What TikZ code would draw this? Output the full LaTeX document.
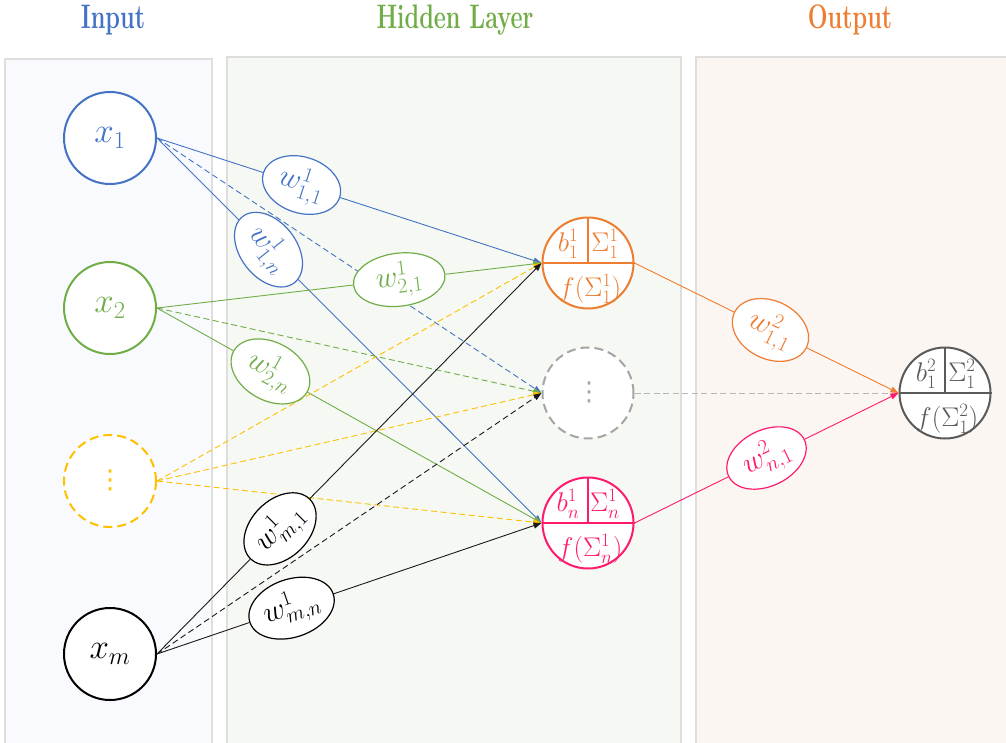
\RequirePackage{fix-cm}
\documentclass[tikz,border=0pt]{standalone}
\usepackage{fontspec}
\newfontfamily\djv{DejaVu Sans}
\usepackage{graphicx}
\usetikzlibrary{shapes.geometric,arrows.meta}
\definecolor{cblue}{HTML}{4472C4}
\definecolor{cgreen}{HTML}{70AD47}
\definecolor{cyellow}{HTML}{FFC000}
\definecolor{corange}{HTML}{ED7D31}
\definecolor{cpink}{HTML}{FF1A6E}
\definecolor{cgray}{HTML}{A5A5A5}
\definecolor{cdark}{HTML}{5A5A5A}
\definecolor{cblack}{HTML}{1A1A1A}
\definecolor{pborder}{HTML}{DEDEDE}
\definecolor{pin}{HTML}{F8FAFD}
\definecolor{phid}{HTML}{F6F9F3}
\definecolor{pout}{HTML}{FBF6F2}
\pgfdeclarelayer{panels}
\pgfdeclarelayer{edges}
\pgfsetlayers{panels,edges,main}
\begin{document}
\begin{tikzpicture}[x=1pt,y=-1pt,
  inp/.style={circle, draw, fill=white, minimum size=92pt, inner sep=0pt, line width=2pt, font=\fontsize{35}{37}\selectfont},
  neu/.style={circle, draw, fill=white, minimum size=91pt, inner sep=0pt, line width=2pt},
  wt/.style={ellipse, draw, fill=white, inner sep=0pt, line width=1.2pt, font=\fontsize{30}{32}\selectfont},
  ntext/.style={inner sep=0pt, font=\fontsize{27}{29}\selectfont},
  dotstext/.style={inner sep=0pt, font=\fontsize{26}{28}\selectfont\djv},
  edge/.style={line width=0.9pt},
  arr/.style={-{Triangle[length=8pt,width=6pt]}},
  dsh/.style={dash pattern=on 6pt off 3.5pt},
  cdsh/.style={dash pattern=on 9pt off 5pt},
  title/.style={font=\fontsize{34}{36}\selectfont\bfseries, anchor=base},
  panel/.style={draw=pborder, line width=1.5pt}
]
\useasboundingbox (0,0) rectangle (1006,742);

% panels
\begin{pgfonlayer}{panels}
\fill[white] (0,0) rectangle (1006,742);
\path[panel, fill=pin] (5,59) rectangle (212,746);
\path[panel, fill=phid] (227,57) rectangle (681,746);
\path[panel, fill=pout] (696,57) rectangle (1012,746);
\end{pgfonlayer}

% titles
\node[title, text=cblue] (tin) at (113,28) {\scalebox{0.69}[1]{Input}};
\node[title, text=cgreen] (thid) at (455,28) {\scalebox{0.69}[1]{Hidden Layer}};
\node[title, text=corange] (tout) at (850,28) {\scalebox{0.69}[1]{Output}};

% input nodes
\node[inp, draw=cblue, text=cblue] (x1) at (110,138) {$x_1$};
\node[inp, draw=cgreen, text=cgreen] (x2) at (110,308) {$x_2$};
\node[inp, draw=cyellow, text=cyellow, cdsh] (xd) at (110,481) {};
\node[dotstext, text=cyellow] (xdd) at (110,480) {⋮};
\node[inp, draw=black, text=black] (xm) at (110,654) {$x_m$};

% hidden neuron 1
\node[neu, draw=corange] (h1) at (588,263) {};
\draw[corange, line width=1.4pt] (h1.west) -- (h1.east) (h1.north) -- (h1.center);
\node[ntext, text=corange] (h1b) at (568,244) {$b_1^1$};
\node[ntext, text=corange] (h1s) at (605,244) {$\Sigma_1^1$};
\node[ntext, text=corange] (h1f) at (590,289) {$f(\Sigma_1^1)$};

% hidden dots neuron
\node[neu, draw=cgray, cdsh] (hd) at (588,393) {};
\node[dotstext, text=cgray] (hdd) at (589,392) {⋮};

% hidden neuron n
\node[neu, draw=cpink] (hn) at (588,523) {};
\draw[cpink, line width=1.4pt] (hn.west) -- (hn.east) (hn.north) -- (hn.center);
\node[ntext, text=cpink] (hnb) at (568,504) {$b_n^1$};
\node[ntext, text=cpink] (hns) at (605,504) {$\Sigma_n^1$};
\node[ntext, text=cpink] (hnf) at (590,549) {$f(\Sigma_n^1)$};

% output neuron
\node[neu, draw=cdark] (out) at (945,393) {};
\draw[cdark, line width=1.4pt] (out.west) -- (out.east) (out.north) -- (out.center);
\node[ntext, text=cdark] (ob) at (926,374) {$b_1^2$};
\node[ntext, text=cdark] (os) at (962,374) {$\Sigma_1^2$};
\node[ntext, text=cdark] (of) at (947,419) {$f(\Sigma_1^2)$};

% weight ellipses
\path (x1.east) -- node[wt, draw=cblue, text=cblue, rotate=-18, minimum width=80pt, minimum height=56pt, pos=0.376] (w11) {$w_{1,1}^1$} (h1.west);
\path (x1.east) -- node[wt, draw=cblue, text=cblue, rotate=-52, minimum width=84pt, minimum height=56pt, pos=0.29] (w1n) {$w_{1,n}^1$} (hn.west);
\path (x2.east) -- node[wt, draw=cgreen, text=cgreen, rotate=7, minimum width=92pt, minimum height=53pt, pos=0.63] (w21) {$w_{2,1}^1$} (h1.west);
\path (x2.east) -- node[wt, draw=cgreen, text=cgreen, rotate=-29, minimum width=84pt, minimum height=58pt, pos=0.295] (w2n) {$w_{2,n}^1$} (hn.west);
\path (xm.east) -- node[wt, draw=black, text=black, rotate=45, minimum width=84pt, minimum height=58pt, pos=0.32] (wm1) {$w_{m,1}^1$} (h1.west);
\path (xm.east) -- node[wt, draw=black, text=black, rotate=19, minimum width=88pt, minimum height=58pt, pos=0.35] (wmn) {$w_{m,n}^1$} (hn.west);
\path (h1.east) -- node[wt, draw=corange, text=corange, rotate=-26, minimum width=80pt, minimum height=58pt, pos=0.515] (v11) {$w_{1,1}^2$} (out.west);
\path (hn.east) -- node[wt, draw=cpink, text=cpink, rotate=26, minimum width=84pt, minimum height=56pt, pos=0.5] (vn1) {$w_{n,1}^2$} (out.west);

% edges
\begin{pgfonlayer}{edges}
% from x1
\draw[edge, cblue] (x1.east) -- (w11);
\draw[edge, cblue, arr] (w11) -- (h1.west);
\draw[edge, cblue, dsh, arr] (x1.east) -- (hd.west);
\draw[edge, cblue] (x1.east) -- (w1n);
\draw[edge, cblue, arr] (w1n) -- (hn.west);
% from x2
\draw[edge, cgreen] (x2.east) -- (w21);
\draw[edge, cgreen, arr] (w21) -- (h1.west);
\draw[edge, cgreen, dsh, arr] (x2.east) -- (hd.west);
\draw[edge, cgreen] (x2.east) -- (w2n);
\draw[edge, cgreen, arr] (w2n) -- (hn.west);
% from dots
\draw[edge, cyellow, dsh, arr] (xd.east) -- (h1.west);
\draw[edge, cyellow, dsh, arr] (xd.east) -- (hd.west);
\draw[edge, cyellow, dsh, arr] (xd.east) -- (hn.west);
% from xm
\draw[edge, cblack] (xm.east) -- (wm1);
\draw[edge, cblack, arr] (wm1) -- (h1.west);
\draw[edge, cblack, dsh, arr] (xm.east) -- (hd.west);
\draw[edge, cblack] (xm.east) -- (wmn);
\draw[edge, cblack, arr] (wmn) -- (hn.west);
% to output
\draw[edge, cgray!80, dsh] (hd.east) -- (out.west);
\draw[edge, corange] (h1.east) -- (v11);
\draw[edge, corange, arr] (v11) -- (out.west);
\draw[edge, cpink] (hn.east) -- (vn1);
\draw[edge, cpink, arr] (vn1) -- (out.west);
\end{pgfonlayer}
\end{tikzpicture}
\end{document}
